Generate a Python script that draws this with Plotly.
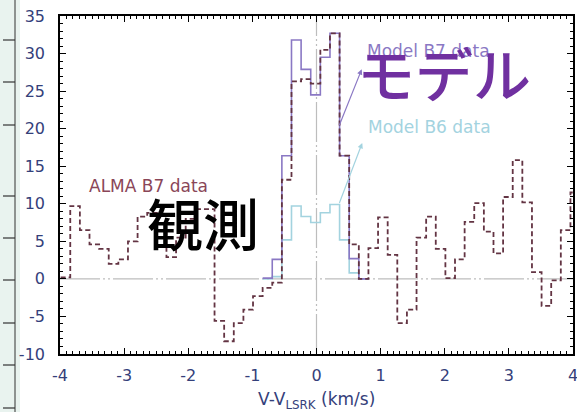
import plotly.graph_objects as go

# Channel edges of the spectrum (km/s), read per channel
edges = [-3.99, -3.84, -3.69, -3.54, -3.39, -3.24, -3.09, -2.94, -2.79, -2.64,
         -2.49, -2.34, -2.19, -2.04, -1.89, -1.74, -1.59, -1.44, -1.29, -1.14,
         -0.99, -0.84, -0.69, -0.54, -0.39, -0.24, -0.09, 0.06, 0.21, 0.36,
         0.51, 0.66, 0.81, 0.96, 1.11, 1.26, 1.41, 1.56, 1.71, 1.86,
         2.01, 2.16, 2.31, 2.46, 2.61, 2.76, 2.91, 3.06, 3.21, 3.36,
         3.51, 3.66, 3.81, 3.96, 4.11]

# ALMA B7 observed flux per channel
alma_b7 = [0.2, 9.7, 6.5, 4.6, 4.0, 2.0, 2.6, 5.0, 8.3, 8.8,
           6.5, 2.9, 5.5, 8.0, 9.3, 9.3, -5.6, -8.3, -5.9, -4.1,
           -2.3, -1.2, -0.5, 13.2, 26.3, 26.6, 26.0, 30.5, 32.7, 16.4,
           4.6, 0.0, 4.1, 8.2, 3.2, -5.9, -4.1, 5.5, 8.3, 4.0,
           0.1, 2.6, 7.6, 10.1, 6.3, 3.4, 10.9, 15.8, 10.2, 0.9,
           -3.6, -0.2, 6.5, 11.5]

# Model spectra, defined on channels -0.84 ... 0.81 km/s
model_edges = [-0.84, -0.69, -0.54, -0.39, -0.24, -0.09, 0.06, 0.21, 0.36,
               0.51, 0.66, 0.81]
model_b7 = [0.1, 2.6, 16.4, 31.8, 27.9, 24.5, 29.5, 32.7, 16.4, 2.7, 0.0]
model_b6 = [0.0, 0.3, 5.2, 9.7, 8.3, 7.5, 8.8, 9.9, 5.2, 0.8, 0.0]

x_ticks = [-4, -3, -2, -1, 0, 1, 2, 3, 4]
y_ticks = [-10, -5, 0, 5, 10, 15, 20, 25, 30, 35]

W, H = 577, 412
L, R, T, B = 60, 4, 16, 58
PW = W - L - R
PH = H - T - B

FONT = "DejaVu Sans"
OBS_COLOR = "#633443"
B7_COLOR = "#8a78c4"
B6_COLOR = "#a3d3df"
TICK_COLOR = "#34407a"


def steps(e, v):
    return e, list(v) + [v[-1]]


fig = go.Figure()

# zero reference lines
ref_line = dict(color="#bdbdbd", width=1.2, dash="40px,3px,2px,3px,2px,3px")
fig.add_shape(type="line", xref="x", yref="y", x0=-4, x1=4, y0=0, y1=0,
              line=ref_line, layer="below")
fig.add_shape(type="line", xref="x", yref="y", x0=0, x1=0, y0=-10, y1=35,
              line=ref_line, layer="below")

xb6, yb6 = steps(model_edges, model_b6)
fig.add_trace(go.Scatter(x=xb6, y=yb6, mode="lines", line_shape="hv",
                         line=dict(color=B6_COLOR, width=1.6), hoverinfo="skip"))
xb7, yb7 = steps(model_edges, model_b7)
fig.add_trace(go.Scatter(x=xb7, y=yb7, mode="lines", line_shape="hv",
                         line=dict(color=B7_COLOR, width=1.6), hoverinfo="skip"))
xo, yo = steps(edges, alma_b7)
fig.add_trace(go.Scatter(x=xo, y=yo, mode="lines", line_shape="hv",
                         line=dict(color=OBS_COLOR, width=1.8, dash="5px,3px"),
                         hoverinfo="skip"))

ann = []
# arrows from the spectra to their labels
ann.append(dict(x=0.705, y=27.9, ax=0.348, ay=20.3, xref="x", yref="y",
                axref="x", ayref="y", text="", showarrow=True, arrowhead=2,
                arrowsize=0.9, arrowwidth=1.2, arrowcolor=B7_COLOR, standoff=0))
ann.append(dict(x=0.713, y=18.1, ax=0.348, ay=9.9, xref="x", yref="y",
                axref="x", ayref="y", text="", showarrow=True, arrowhead=2,
                arrowsize=0.9, arrowwidth=1.2, arrowcolor=B6_COLOR, standoff=0))
ann.append(dict(x=0.755, y=30.4, xref="x", yref="y", text="Model B7 data",
                showarrow=False, xanchor="left", yanchor="middle",
                font=dict(family=FONT, size=17, color=B7_COLOR)))
ann.append(dict(x=0.765, y=20.2, xref="x", yref="y", text="Model B6 data",
                showarrow=False, xanchor="left", yanchor="middle",
                font=dict(family=FONT, size=17, color=B6_COLOR)))
ann.append(dict(x=-3.58, y=12.4, xref="x", yref="y", text="ALMA B7 data",
                showarrow=False, xanchor="left", yanchor="middle",
                font=dict(family=FONT, size=17, color="#8a4658")))
ann.append(dict(x=0.60, y=27.6, xref="x", yref="y", text="モデル",
                showarrow=False, xanchor="left", yanchor="middle",
                font=dict(family="Noto Sans CJK JP", size=58, color="#7030a0", weight=500)))
ann.append(dict(x=-2.68, y=7.6, xref="x", yref="y", text="観測",
                showarrow=False, xanchor="left", yanchor="middle",
                font=dict(family="Noto Sans CJK JP", size=56, color="#000000", weight=500)))
# axis title
ann.append(dict(x=0.5, y=0, xref="paper", yref="paper", yanchor="top",
                yshift=-33, showarrow=False,
                text="V-V<sub>LSRK</sub> (km/s)",
                font=dict(family=FONT, size=17, color=TICK_COLOR)))

# strip along the left edge of the page
px = lambda p: (p - L) / PW
py = lambda p: 1 - (p - T) / PH
shapes = [
    dict(type="rect", xref="paper", yref="paper", x0=px(0), x1=px(20), y0=py(H), y1=py(0),
         fillcolor="#e9f3ef", line=dict(width=0), layer="below"),
    dict(type="line", xref="paper", yref="paper", x0=px(15), x1=px(15), y0=py(H), y1=py(0),
         line=dict(color="#333333", width=1)),
]
for t in [40, 82, 125, 196, 238, 280, 323, 365, 408]:
    shapes.append(dict(type="line", xref="paper", yref="paper", x0=px(3), x1=px(15),
                       y0=py(t), y1=py(t), line=dict(color="#333333", width=1.2)))
for s in shapes:
    fig.add_shape(**s)

axis_common = dict(showline=True, linecolor="black", linewidth=1.6, mirror="allticks",
                   ticks="inside", ticklen=6, tickwidth=1.4, tickcolor="black",
                   showgrid=False, zeroline=False, automargin=False,
                   ticklabeloverflow="allow",
                   tickfont=dict(family=FONT, size=16, color=TICK_COLOR))

fig.update_layout(
    width=W, height=H, margin=dict(l=L, r=R, t=T, b=B),
    paper_bgcolor="white", plot_bgcolor="white", showlegend=False,
    annotations=ann,
    xaxis=dict(range=[-4, 4], tickvals=x_ticks, ticktext=[str(v) for v in x_ticks],
               minor=dict(ticks="inside", ticklen=3, tickwidth=1, tickcolor="black", dtick=0.1),
               ticklabelstandoff=6, **axis_common),
    yaxis=dict(range=[-10, 35], tickvals=y_ticks, ticktext=[str(v) for v in y_ticks],
               minor=dict(ticks="inside", ticklen=3, tickwidth=1, tickcolor="black", dtick=1),
               ticklabelstandoff=10, **axis_common),
)

fig.write_html("out.html")
